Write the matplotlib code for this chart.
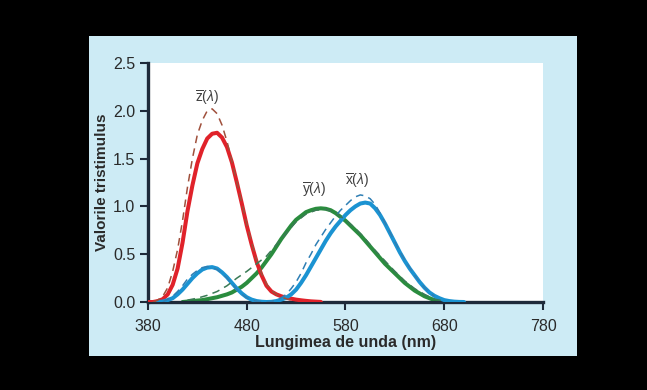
import numpy as np
import matplotlib
matplotlib.use("Agg")
from matplotlib import pyplot as plt
from matplotlib.patches import Rectangle

plt.rcParams["font.family"] = ["Liberation Sans", "DejaVu Sans"]
plt.rcParams["mathtext.fontset"] = "custom"
plt.rcParams["mathtext.rm"] = "Liberation Sans"
plt.rcParams["mathtext.it"] = "Liberation Sans:italic"

# lungimi de unda (nm) si valori
nm_z = [380, 385, 390, 395, 400, 405, 410, 415, 420, 425, 430, 435, 440, 445, 450, 455,
        460, 465, 470, 475, 480, 485, 490, 495, 500, 505, 510, 515, 520, 525, 530, 535,
        540, 545, 550, 555]
z_solid = [0.0, 0.0, 0.01, 0.03, 0.08, 0.18, 0.35, 0.62, 0.95, 1.22, 1.45, 1.6, 1.71, 1.76,
           1.77, 1.72, 1.62, 1.46, 1.25, 1.03, 0.8, 0.6, 0.42, 0.28, 0.17, 0.11, 0.08, 0.06,
           0.045, 0.035, 0.025, 0.018, 0.012, 0.007, 0.004, 0.001]

nm_z2 = [385, 390, 395, 400, 405, 410, 415, 420, 425, 430, 435, 440, 445, 450, 455, 460,
         465, 470, 475, 480, 485, 490, 495, 500, 505, 510, 515, 520, 525, 530]
z_dash = [0.0, 0.02, 0.06, 0.15, 0.32, 0.55, 0.85, 1.2, 1.5, 1.75, 1.9, 2.0, 2.02, 1.97,
          1.85, 1.68, 1.47, 1.26, 1.04, 0.82, 0.62, 0.44, 0.3, 0.19, 0.12, 0.08, 0.05,
          0.035, 0.02, 0.01]

nm_x = list(range(390, 705, 5))
x_solid = [0.0, 0.005, 0.02, 0.04, 0.08, 0.13, 0.19, 0.25, 0.3, 0.34, 0.36, 0.365, 0.35,
           0.31, 0.26, 0.2, 0.14, 0.09, 0.05, 0.025, 0.01, 0.003, 0.0, 0.002, 0.01, 0.025,
           0.045, 0.08, 0.13, 0.2, 0.28, 0.37, 0.46, 0.55, 0.64, 0.72, 0.79, 0.85, 0.91,
           0.96, 1.0, 1.03, 1.04, 1.03, 0.98, 0.91, 0.82, 0.72, 0.62, 0.52, 0.43, 0.35,
           0.28, 0.21, 0.15, 0.1, 0.065, 0.04, 0.02, 0.01, 0.004, 0.001, 0.0]

nm_x2 = list(range(395, 675, 5))
x_dash = [0.0, 0.03, 0.06, 0.11, 0.17, 0.24, 0.29, 0.33, 0.36, 0.37, 0.36, 0.34, 0.3,
          0.25, 0.19, 0.13, 0.08, 0.045, 0.02, 0.008, 0.002, 0.0, 0.005, 0.02, 0.045, 0.08,
          0.14, 0.21, 0.3, 0.41, 0.5, 0.6, 0.68, 0.76, 0.83, 0.9, 0.96, 1.01, 1.06, 1.1,
          1.12, 1.11, 1.08, 1.02, 0.93, 0.83, 0.73, 0.63, 0.53, 0.44, 0.36, 0.28, 0.21,
          0.15, 0.1, 0.06]

nm_y = list(range(415, 690, 5))
y_solid = [0.0, 0.005, 0.01, 0.015, 0.02, 0.03, 0.04, 0.05, 0.065, 0.08, 0.1, 0.13, 0.16,
           0.2, 0.25, 0.3, 0.36, 0.43, 0.5, 0.58, 0.66, 0.73, 0.8, 0.86, 0.9, 0.94, 0.96,
           0.975, 0.98, 0.975, 0.96, 0.93, 0.89, 0.85, 0.8, 0.75, 0.7, 0.64, 0.58, 0.52,
           0.46, 0.4, 0.35, 0.3, 0.25, 0.2, 0.16, 0.12, 0.09, 0.06, 0.04, 0.02, 0.01,
           0.004, 0.0]

nm_y2 = list(range(420, 690, 10))
y_dash = [0.02, 0.04, 0.07, 0.11, 0.17, 0.25, 0.32, 0.4, 0.48, 0.6, 0.72, 0.84, 0.92,
          0.96, 0.97, 0.93, 0.86, 0.77, 0.66, 0.54, 0.43, 0.32, 0.22, 0.14, 0.08, 0.03,
          0.01]

x_ticks = [380, 480, 580, 680, 780]
y_ticks = [0.0, 0.5, 1.0, 1.5, 2.0, 2.5]

fig = plt.figure(figsize=(6.47, 3.90), dpi=100, facecolor="black")
# panoul albastru deschis, intr-un axes separat in spate
bg = fig.add_axes([0, 0, 1, 1], zorder=-5)
bg.axis("off")
bg.add_patch(Rectangle((0.1376, 0.0872), 0.7543, 0.8205, transform=bg.transAxes,
                       facecolor="#cdebf5", edgecolor="none"))
ax = fig.add_axes([0.2287, 0.2256, 0.6106, 0.6129])
ax.set_facecolor("white")

ax.plot(nm_z, z_solid, color="#e0222a", lw=2.9, solid_capstyle="round", zorder=3)
ax.plot(nm_x, x_solid, color="#1b93d2", lw=2.9, solid_capstyle="round", zorder=3)
ax.plot(nm_y, y_solid, color="#2a8c3e", lw=2.9, solid_capstyle="round", zorder=2)
ax.plot(nm_z2, z_dash, color="#a0503c", lw=1.1, ls=(0, (5, 3.5)), zorder=4)
ax.plot(nm_x2, x_dash, color="#2f7fb4", lw=1.1, ls=(0, (5, 3.5)), zorder=4)
ax.plot(nm_y2, y_dash, color="#3a7a55", lw=1.1, ls=(0, (5, 3.5)), zorder=4)

ax.text(440, 2.14, r"$\overline{\mathrm{z}}(\lambda)$", ha="center", va="center",
        fontsize=10, color="#404040")
ax.text(548, 1.17, r"$\overline{\mathrm{y}}(\lambda)$", ha="center", va="center",
        fontsize=10, color="#404040")
ax.text(592, 1.27, r"$\overline{\mathrm{x}}(\lambda)$", ha="center", va="center",
        fontsize=10, color="#404040")

ax.set_xlim(380, 780)
ax.set_ylim(0, 2.5)
ax.set_xticks(x_ticks)
ax.set_yticks(y_ticks)
ax.set_yticklabels(["%.1f" % v for v in y_ticks])
for s in ["top", "right"]:
    ax.spines[s].set_visible(False)
for s in ["left", "bottom"]:
    ax.spines[s].set_color("#1e2a3a")
    ax.spines[s].set_linewidth(2.4)
ax.tick_params(direction="out", length=6, width=1.5, color="#1e2a3a",
               labelsize=11.5, labelcolor="#2a2a2a", pad=3)
ax.tick_params(axis="x", pad=6)
ax.set_xlabel("Lungimea de unda (nm)", fontsize=11.5, fontweight="bold",
              color="#2a2a2a", labelpad=1)
ax.set_ylabel("Valorile tristimulus", fontsize=11, fontweight="bold",
              color="#2a2a2a", labelpad=3)

fig.savefig("out.png", dpi=100, facecolor="black")
